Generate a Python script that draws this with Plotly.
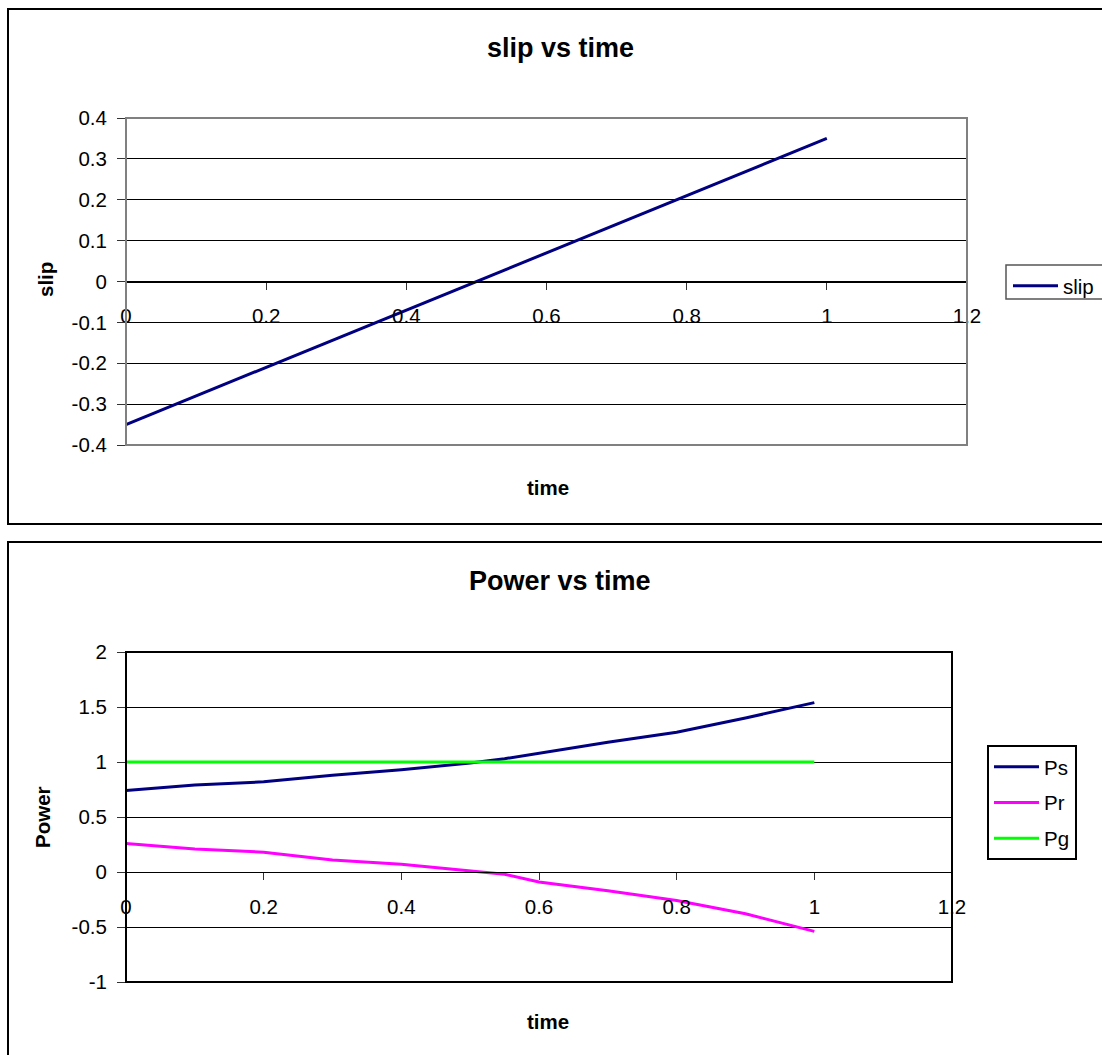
import plotly.graph_objects as go

W, H = 1102, 1055

# ---------------- data ----------------
slip_time = [0.0, 0.1, 0.2, 0.3, 0.4, 0.5, 0.6, 0.7, 0.8, 0.9, 1.0]
slip_vals = [-0.35, -0.28, -0.21, -0.14, -0.07, 0.0, 0.07, 0.14, 0.21, 0.28, 0.35]

p_time = [0.0, 0.1, 0.2, 0.3, 0.4, 0.5, 0.55, 0.6, 0.7, 0.8, 0.9, 1.0]
ps_vals = [0.74, 0.79, 0.82, 0.88, 0.93, 0.99, 1.03, 1.08, 1.18, 1.27, 1.40, 1.54]
pr_vals = [0.26, 0.21, 0.18, 0.11, 0.07, 0.01, -0.02, -0.09, -0.17, -0.26, -0.38, -0.54]
pg_vals = [1, 1, 1, 1, 1, 1, 1, 1, 1, 1, 1, 1]

x_ticks = [0, 0.2, 0.4, 0.6, 0.8, 1, 1.2]
x_ticktext = ["0", "0.2", "0.4", "0.6", "0.8", "1", "1.2"]
slip_yticks = [-0.4, -0.3, -0.2, -0.1, 0, 0.1, 0.2, 0.3, 0.4]
slip_yticktext = ["-0.4", "-0.3", "-0.2", "-0.1", "0", "0.1", "0.2", "0.3", "0.4"]
pow_yticks = [-1, -0.5, 0, 0.5, 1, 1.5, 2]
pow_yticktext = ["-1", "-0.5", "0", "0.5", "1", "1.5", "2"]

FONT = "Liberation Sans, Arial, sans-serif"
NAVY = "#000080"
MAGENTA = "#FF00FF"
LIME = "#00FF00"


def px(xp):
    return xp / W


def py(yp):
    return 1 - yp / H


# plot-area geometry (pixels)
top_plot = dict(l=126, r=967, t=118, b=445)
bot_plot = dict(l=126, r=952, t=652, b=982)

top_xdom = [px(top_plot["l"]), px(top_plot["r"])]
top_ydom = [py(top_plot["b"]), py(top_plot["t"])]
bot_xdom = [px(bot_plot["l"]), px(bot_plot["r"])]
bot_ydom = [py(bot_plot["b"]), py(bot_plot["t"])]

slip_range = [-0.4, 0.4]
pow_range = [-1, 2]
top_zero = top_ydom[0] + (top_ydom[1] - top_ydom[0]) * (0 - slip_range[0]) / (slip_range[1] - slip_range[0])
bot_zero = bot_ydom[0] + (bot_ydom[1] - bot_ydom[0]) * (0 - pow_range[0]) / (pow_range[1] - pow_range[0])

fig = go.Figure()

fig.add_trace(go.Scatter(x=slip_time, y=slip_vals, mode="lines", name="slip",
                         line=dict(color=NAVY, width=3), xaxis="x", yaxis="y",
                         legend="legend"))
fig.add_trace(go.Scatter(x=p_time, y=ps_vals, mode="lines", name="Ps",
                         line=dict(color=NAVY, width=3), xaxis="x2", yaxis="y2",
                         legend="legend2", legendgroup="a"))
fig.add_trace(go.Scatter(x=p_time, y=pr_vals, mode="lines", name="Pr",
                         line=dict(color=MAGENTA, width=3), xaxis="x2", yaxis="y2",
                         legend="legend2", legendgroup="b"))
fig.add_trace(go.Scatter(x=p_time, y=pg_vals, mode="lines", name="Pg",
                         line=dict(color=LIME, width=3), xaxis="x2", yaxis="y2",
                         legend="legend2", legendgroup="c"))

tickfont = dict(family=FONT, size=20.5, color="black")

common_x = dict(range=[0, 1.2], tickmode="array", showgrid=False, zeroline=False,
                showline=True, linecolor="black", linewidth=1, ticks="outside",
                ticklen=7, tickcolor="#333333", tickfont=tickfont, anchor="free",
                ticklabelstandoff=9, automargin=False)
common_y = dict(showgrid=True, gridcolor="black", gridwidth=1, zeroline=False,
                showline=True, linecolor="black", linewidth=1, ticks="outside",
                ticklen=8, tickcolor="#333333", tickfont=tickfont, tickmode="array",
                ticklabelstandoff=6, automargin=False)

fig.update_layout(
    template="none",
    width=W, height=H,
    margin=dict(l=0, r=0, t=0, b=0, pad=0, autoexpand=False),
    paper_bgcolor="white", plot_bgcolor="white",
    showlegend=True,
    xaxis=dict(common_x, domain=top_xdom, position=top_zero,
               tickvals=x_ticks, ticktext=x_ticktext),
    yaxis=dict(common_y, domain=top_ydom, range=slip_range, anchor="x",
               tickvals=slip_yticks, ticktext=slip_yticktext),
    xaxis2=dict(common_x, domain=bot_xdom, position=bot_zero,
                tickvals=x_ticks, ticktext=x_ticktext),
    yaxis2=dict(common_y, domain=bot_ydom, range=pow_range, anchor="x2",
                tickvals=pow_yticks, ticktext=pow_yticktext),
    legend=dict(x=px(1008), y=py(266), xanchor="left", yanchor="top",
                borderwidth=0, bgcolor="rgba(0,0,0,0)",
                font=dict(family=FONT, size=20.5, color="black"),
                itemwidth=45),
    legend2=dict(x=px(987), y=py(745), xanchor="left", yanchor="top",
                 bordercolor="black", borderwidth=2, bgcolor="white",
                 font=dict(family=FONT, size=20.5, color="black"),
                 tracegroupgap=6, traceorder="grouped", itemwidth=45),
)

# chart outer borders (right / bottom edges fall outside the picture)
fig.add_shape(type="rect", xref="paper", yref="paper",
              x0=px(8), x1=px(1106), y0=py(524), y1=py(9),
              line=dict(color="black", width=2), layer="below")
fig.add_shape(type="rect", xref="paper", yref="paper",
              x0=px(8), x1=px(1106), y0=py(1059), y1=py(542),
              line=dict(color="black", width=2), layer="below")
# legend frame of the top chart (runs off the right edge)
fig.add_shape(type="rect", xref="paper", yref="paper",
              x0=px(1006), x1=px(1108), y0=py(299), y1=py(265),
              line=dict(color="#555555", width=1.5), fillcolor="white", layer="below")
# plot-area borders
fig.add_shape(type="rect", xref="x domain", yref="y domain", x0=0, x1=1, y0=0, y1=1,
              line=dict(color="#808080", width=2))
fig.add_shape(type="rect", xref="x2 domain", yref="y2 domain", x0=0, x1=1, y0=0, y1=1,
              line=dict(color="black", width=2))

title_font = dict(family=FONT, size=27, color="black")
axis_title_font = dict(family=FONT, size=20.5, color="black")

annos = [
    dict(text="<b>slip vs time</b>", x=px(560), y=py(48), font=title_font),
    dict(text="<b>Power vs time</b>", x=px(560), y=py(581), font=title_font),
    dict(text="<b>time</b>", x=px(548), y=py(487), font=axis_title_font),
    dict(text="<b>time</b>", x=px(548), y=py(1021), font=axis_title_font),
    dict(text="<b>slip</b>", x=px(45), y=py(280), font=axis_title_font, textangle=-90),
    dict(text="<b>Power</b>", x=px(42), y=py(817), font=axis_title_font, textangle=-90),
]
for a in annos:
    fig.add_annotation(xref="paper", yref="paper", showarrow=False,
                       xanchor="center", yanchor="middle", **a)

fig.write_html("out.html")
